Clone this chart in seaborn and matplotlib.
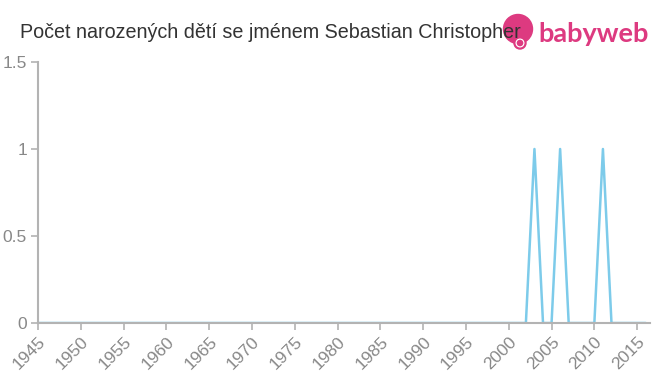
import numpy as np
import pandas as pd
import matplotlib
matplotlib.use("Agg")
import matplotlib.pyplot as plt
import seaborn as sns
from matplotlib.patches import Circle

# Data
years = list(range(1945, 2017))
peak_years = [2003, 2006, 2011]
peak_values = [1, 1, 1]
counts = [peak_values[peak_years.index(y)] if y in peak_years else 0 for y in years]

title = "Počet narozených dětí se jménem Sebastian Christopher"
x_ticks = list(range(1945, 2016, 5))
y_ticks = [0, 0.5, 1, 1.5]
y_tick_labels = ["0", "0.5", "1", "1.5"]

df = pd.DataFrame({"rok": years, "pocet": counts})

sns.set_style("white")
plt.rcParams["font.family"] = ["Liberation Sans", "DejaVu Sans"]

fig = plt.figure(figsize=(6.6, 3.75), dpi=100)
ax = fig.add_axes([38 / 660, 1 - 323 / 375, (650 - 38) / 660, (323 - 62) / 375])

sns.lineplot(data=df, x="rok", y="pocet", ax=ax, color="#7dcbea", linewidth=1.8)

ax.set_xlim(1945, 2016.5)
ax.set_ylim(0, 1.5)
ax.set_xticks(x_ticks)
ax.set_xticklabels([str(t) for t in x_ticks], rotation=45, ha="right",
                   rotation_mode="anchor", fontsize=12.5, color="#888888")
ax.set_yticks(y_ticks)
ax.set_yticklabels(y_tick_labels, fontsize=12.5, color="#888888")
ax.set_xlabel("")
ax.set_ylabel("")

for s in ["top", "right"]:
    ax.spines[s].set_visible(False)
for s in ["left", "bottom"]:
    ax.spines[s].set_color("#b3b3b3")
    ax.spines[s].set_linewidth(1.5)
ax.tick_params(axis="both", which="both", length=5, width=1.2, color="#b3b3b3",
               direction="out", pad=3, left=True, bottom=True)
ax.grid(False)

fig.text(20 / 660, 1 - 32 / 375, title, fontsize=14.2, color="#333333",
         ha="left", va="center")

# Logo
pink = "#dd3a80"
logo_ax = fig.add_axes([0, 0, 1, 1], facecolor="none")
logo_ax.set_xlim(0, 660)
logo_ax.set_ylim(375, 0)
logo_ax.axis("off")
logo_ax.add_patch(Circle((518, 29), 14.5, color=pink, zorder=2))
logo_ax.add_patch(Circle((520, 43), 6, color=pink, zorder=2))
logo_ax.add_patch(Circle((520, 43), 3.8, color="white", zorder=3))
logo_ax.add_patch(Circle((520, 43), 2.6, color=pink, zorder=4))
logo_ax.text(538, 34, "babyweb", fontsize=19.5, color=pink, ha="left",
             va="center", fontweight="bold", family=["Lato", "DejaVu Sans"])

fig.savefig("out.png", dpi=100)
